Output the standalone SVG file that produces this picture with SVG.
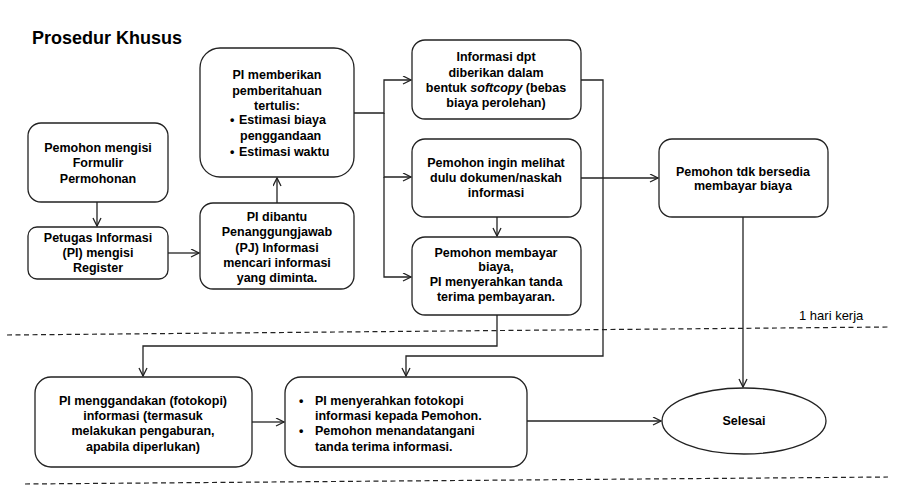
<svg xmlns="http://www.w3.org/2000/svg" width="906" height="491" viewBox="0 0 906 491">
<style>
.box{fill:#fff;stroke:#222;stroke-width:1.3}
.t{font-family:"Liberation Sans",Arial,sans-serif;font-weight:bold;font-size:12.5px;fill:#000;text-anchor:middle}
.l{font-family:"Liberation Sans",Arial,sans-serif;font-weight:bold;font-size:12.5px;fill:#000}
.c{fill:none;stroke:#222;stroke-width:1.3}
.d{stroke:#222;stroke-width:1.2;stroke-dasharray:5,3.5}
</style>
<defs>
<marker id="a" markerUnits="userSpaceOnUse" markerWidth="12" markerHeight="10" refX="9" refY="4.5" orient="auto" viewBox="0 0 12 10">
<path d="M1,0.5 L9,4.5 L1,8.5" fill="none" stroke="#222" stroke-width="1.3"/>
</marker>
</defs>
<rect width="906" height="491" fill="#fff"/>
<text x="32" y="44" style="font-family:'Liberation Sans',Arial,sans-serif;font-weight:bold;font-size:18px">Prosedur Khusus</text>
<g id="dashes">
<line class="d" x1="7" y1="335" x2="888" y2="327"/>
<line class="d" x1="25" y1="484" x2="888" y2="477"/>
</g>
<text x="799" y="320" style="font-family:'Liberation Sans',Arial,sans-serif;font-size:13px">1 hari kerja</text>
<g id="connectors">
<path class="c" d="M97,202 V226" marker-end="url(#a)"/>
<path class="c" d="M168,253 H199" marker-end="url(#a)"/>
<path class="c" d="M277,203 V178" marker-end="url(#a)"/>
<path class="c" d="M354,113 H384 V80 H411" marker-end="url(#a)"/>
<path class="c" d="M384,113 V177 H411" marker-end="url(#a)"/>
<path class="c" d="M384,177 V277 H411" marker-end="url(#a)"/>
<path class="c" d="M497,217 V236" marker-end="url(#a)"/>
<path class="c" d="M581,80 H603 V356 H406 V376" marker-end="url(#a)"/>
<path class="c" d="M581,178 H658" marker-end="url(#a)"/>
<path class="c" d="M497,315 V346 H143 V376" marker-end="url(#a)"/>
<path class="c" d="M252,422 H284" marker-end="url(#a)"/>
<path class="c" d="M527,421 H661" marker-end="url(#a)"/>
<path class="c" d="M743,217 V387" marker-end="url(#a)"/>
</g>
<g id="n1">
<rect class="box" x="28" y="123" width="140" height="79" rx="13"/>
<text class="t" x="98" y="152">Pemohon mengisi</text>
<text class="t" x="98" y="167">Formulir</text>
<text class="t" x="98" y="183">Permohonan</text>
</g>
<g id="n2">
<rect class="box" x="28" y="227" width="140" height="52" rx="9"/>
<text class="t" x="98" y="242">Petugas Informasi</text>
<text class="t" x="98" y="257">(PI) mengisi</text>
<text class="t" x="98" y="272">Register</text>
</g>
<g id="n3">
<rect class="box" x="200" y="203" width="154" height="86" rx="13"/>
<text class="t" x="277" y="221">PI dibantu</text>
<text class="t" x="277" y="236">Penanggungjawab</text>
<text class="t" x="277" y="252">(PJ) Informasi</text>
<text class="t" x="277" y="267">mencari informasi</text>
<text class="t" x="277" y="282">yang diminta.</text>
</g>
<g id="n4">
<rect class="box" x="200" y="48" width="154" height="129" rx="20"/>
<text class="t" x="277" y="79">PI memberikan</text>
<text class="t" x="277" y="95">pemberitahuan</text>
<text class="t" x="277" y="110">tertulis:</text>
<text class="l" x="230" y="124">•</text>
<text class="l" x="239" y="124">Estimasi biaya</text>
<text class="l" x="240" y="140">penggandaan</text>
<text class="l" x="230" y="156">•</text>
<text class="l" x="239" y="156">Estimasi waktu</text>
</g>
<g id="n5">
<rect class="box" x="412" y="40" width="169" height="79" rx="13"/>
<text class="t" x="496" y="61">Informasi dpt</text>
<text class="t" x="496" y="77">diberikan dalam</text>
<text class="t" x="496" y="92">bentuk <tspan font-style="italic">softcopy</tspan> (bebas</text>
<text class="t" x="496" y="107">biaya perolehan)</text>
</g>
<g id="n6">
<rect class="box" x="412" y="139" width="169" height="78" rx="13"/>
<text class="t" x="496" y="167">Pemohon ingin melihat</text>
<text class="t" x="496" y="182">dulu dokumen/naskah</text>
<text class="t" x="496" y="197">informasi</text>
</g>
<g id="n7">
<rect class="box" x="412" y="237" width="169" height="78" rx="13"/>
<text class="t" x="496" y="257">Pemohon membayar</text>
<text class="t" x="496" y="271">biaya,</text>
<text class="t" x="496" y="286">PI menyerahkan tanda</text>
<text class="t" x="496" y="301">terima pembayaran.</text>
</g>
<g id="n8">
<rect class="box" x="659" y="139" width="169" height="78" rx="13"/>
<text class="t" x="743" y="176">Pemohon tdk bersedia</text>
<text class="t" x="743" y="190">membayar biaya</text>
</g>
<g id="n9">
<rect class="box" x="35" y="377" width="217" height="90" rx="16"/>
<text class="t" x="143" y="405">PI menggandakan (fotokopi)</text>
<text class="t" x="143" y="420">informasi (termasuk</text>
<text class="t" x="143" y="435">melakukan pengaburan,</text>
<text class="t" x="143" y="451">apabila diperlukan)</text>
</g>
<g id="n10">
<rect class="box" x="285" y="377" width="242" height="90" rx="16"/>
<text class="l" x="299" y="405">•</text>
<text class="l" x="315" y="405">PI menyerahkan fotokopi</text>
<text class="l" x="315" y="420">informasi kepada Pemohon.</text>
<text class="l" x="299" y="435">•</text>
<text class="l" x="315" y="435">Pemohon menandatangani</text>
<text class="l" x="315" y="451">tanda terima informasi.</text>
</g>
<g id="n11">
<ellipse class="box" cx="744" cy="421" rx="82" ry="33"/>
<text class="t" x="744" y="425">Selesai</text>
</g>
</svg>
